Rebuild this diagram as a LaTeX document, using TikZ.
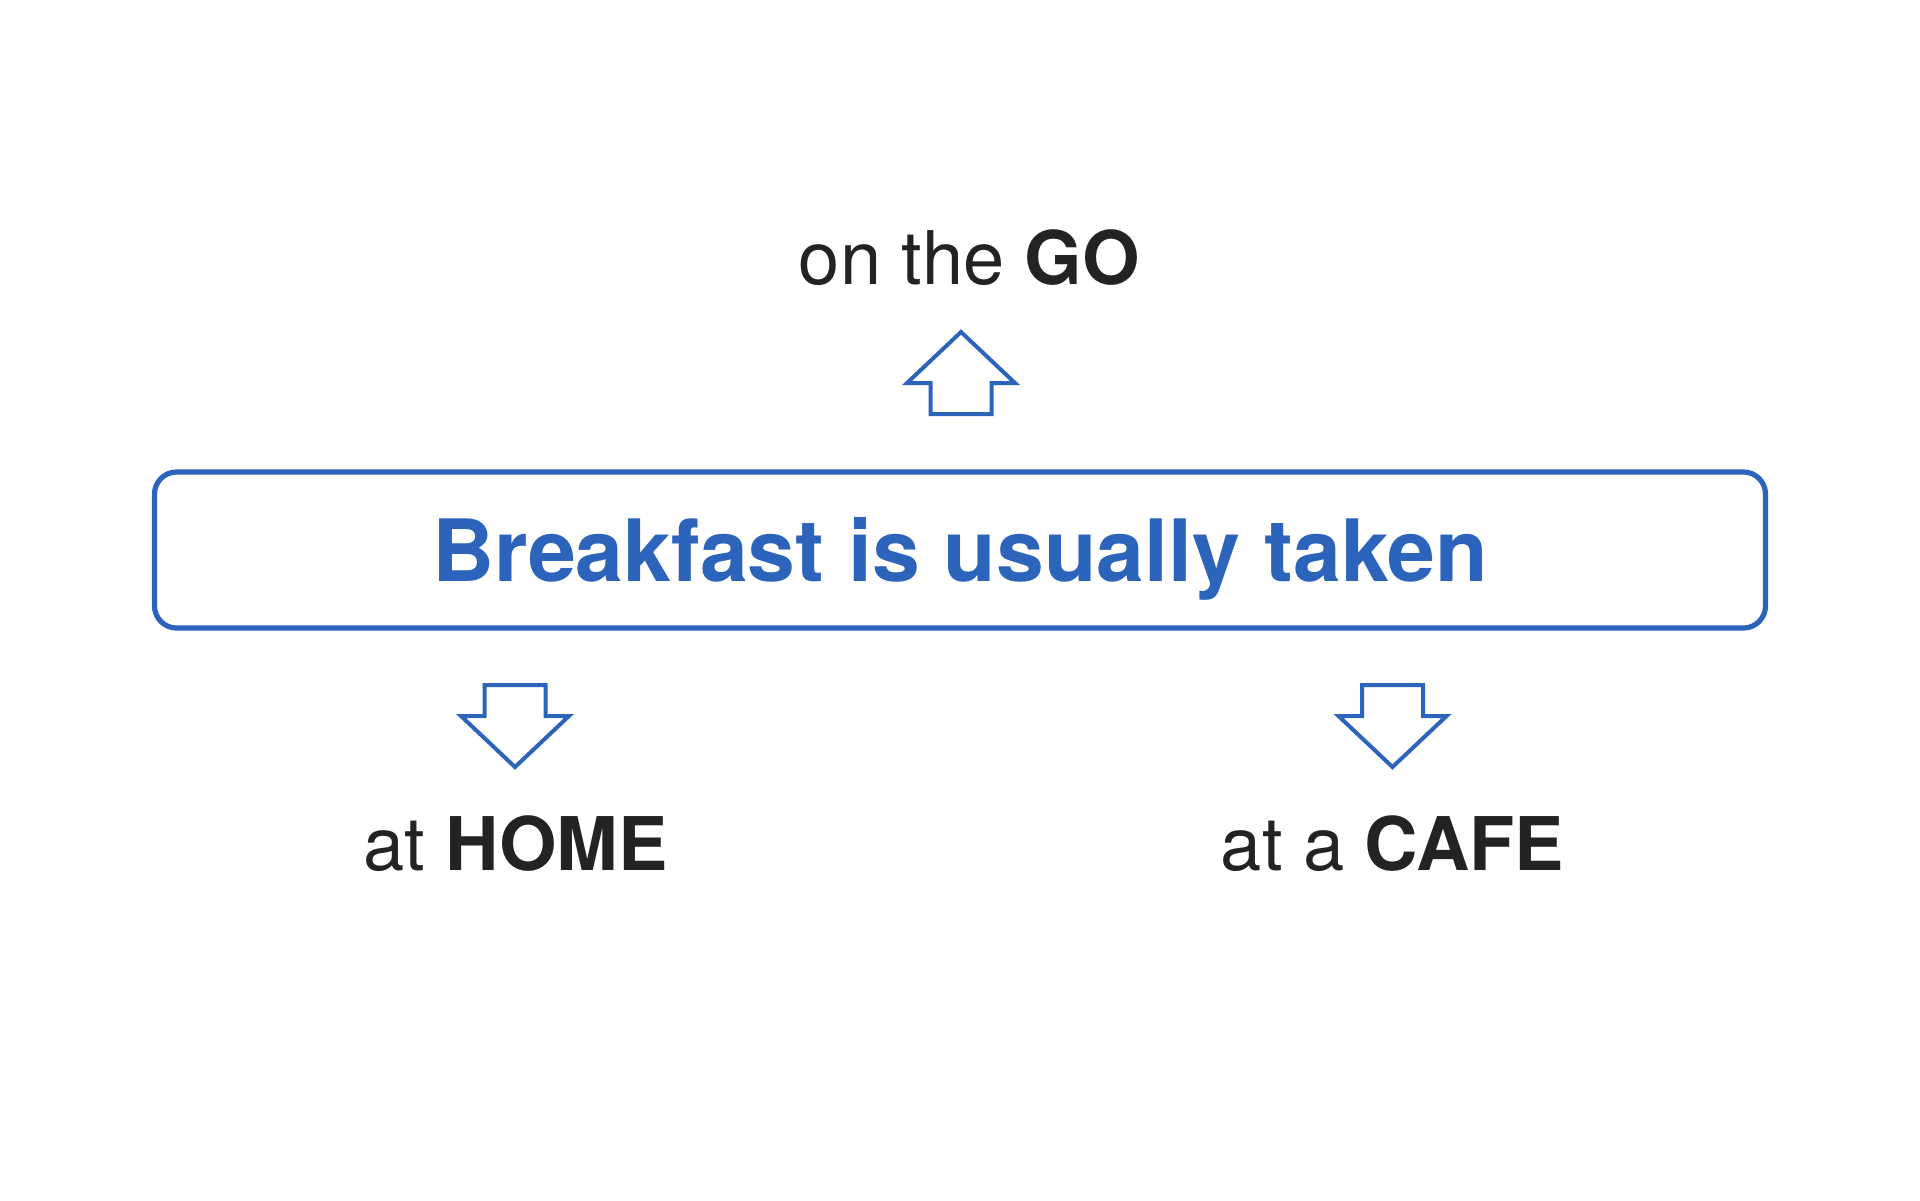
\documentclass[tikz,border=0pt]{standalone}
\usepackage{fontspec}
\setmainfont{TeX Gyre Heros}
\definecolor{mainblue}{RGB}{44,99,187}
\definecolor{darktext}{RGB}{35,35,35}
\tikzset{
  mainbox/.style={draw=mainblue, line width=2.6pt, rounded corners=11pt,
    minimum width=805.5pt, minimum height=78pt, inner sep=0pt,
    text height=31pt, text depth=0pt, text=mainblue,
    font=\fontsize{43}{50}\selectfont\bfseries},
  labeltext/.style={anchor=base, inner sep=0pt, text=darktext,
    font=\fontsize{37}{44}\selectfont},
  arrowline/.style={draw=mainblue, line width=2pt, fill=white, line join=miter},
  blockarrow/.pic={
    \path[arrowline] (0,0) -- (54,51) -- (30.5,51) -- (30.5,82) -- (-30.5,82)
      -- (-30.5,51) -- (-54,51) -- cycle;
  }
}
\begin{document}
\begin{tikzpicture}[x=0.5pt,y=-0.5pt]
\useasboundingbox[fill=white] (0,0) rectangle (1920,1200);
\node[mainbox] (main) at (960,550) {Breakfast is usually taken};
\node[labeltext] (go) at (969.5,284.5) {on the \textbf{GO}};
\node[labeltext] (home) at (515.5,870.7) {at \textbf{HOME}};
\node[labeltext] (cafe) at (1392.5,870.7) {at a \textbf{CAFE}};
\coordinate (tipgo) at (961,332);
\coordinate (tiphome) at (515,767);
\coordinate (tipcafe) at (1392.5,767);
\pic at (tipgo) {blockarrow};
\pic[rotate=180] at (tiphome) {blockarrow};
\pic[rotate=180] at (tipcafe) {blockarrow};
\end{tikzpicture}
\end{document}
